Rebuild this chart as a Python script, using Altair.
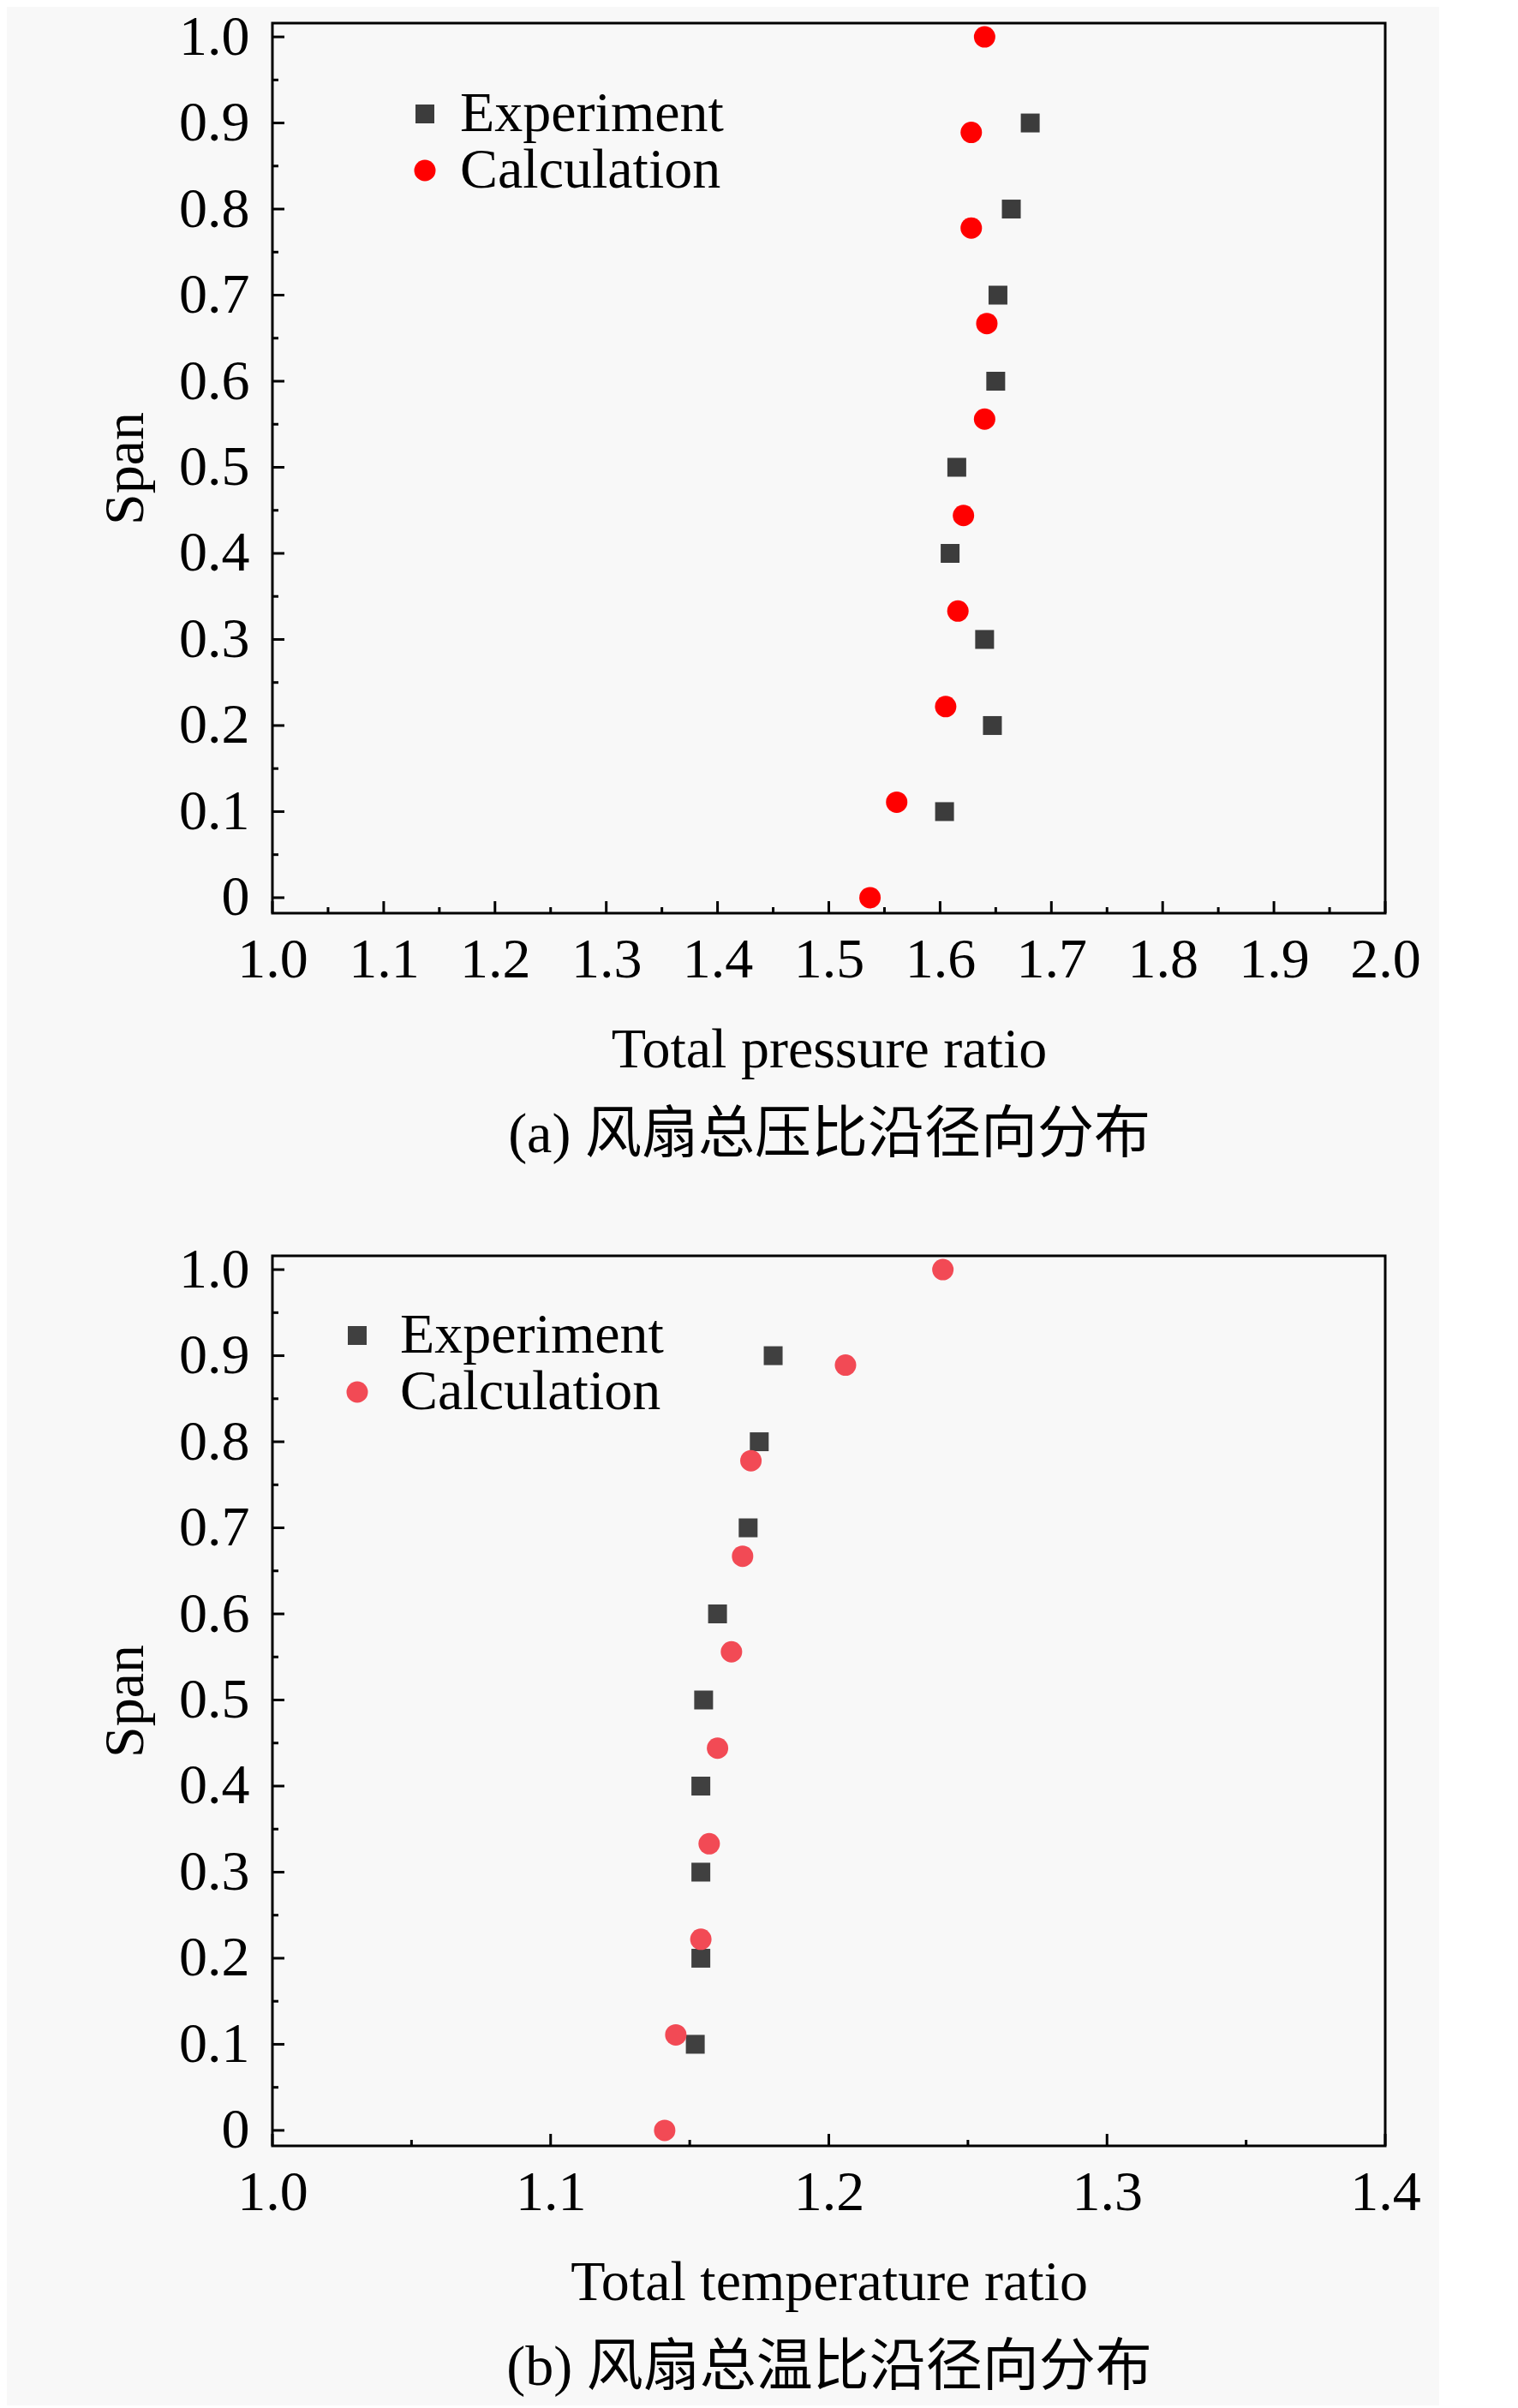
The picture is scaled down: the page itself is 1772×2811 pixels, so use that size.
import altair as alt
import pandas as pd

SERIF = "Liberation Serif, Noto Sans CJK SC"

# spans at which the two data sets were taken
span_exp = [0.1, 0.2, 0.3, 0.4, 0.5, 0.6, 0.7, 0.8, 0.9]
span_calc = [0.0, 0.111, 0.222, 0.333, 0.444, 0.556, 0.667, 0.778, 0.889, 1.0]

# (a) total pressure ratio
pressure_exp = [1.604, 1.647, 1.640, 1.609, 1.615, 1.650, 1.652, 1.664, 1.681]
pressure_calc = [1.537, 1.561, 1.605, 1.616, 1.621, 1.640, 1.642, 1.628, 1.628, 1.640]

# (b) total temperature ratio
temp_exp = [1.152, 1.154, 1.154, 1.154, 1.155, 1.160, 1.171, 1.175, 1.180]
temp_calc = [1.141, 1.145, 1.154, 1.157, 1.160, 1.165, 1.169, 1.172, 1.206, 1.241]

# tick values
x_major_a = [1.0, 1.1, 1.2, 1.3, 1.4, 1.5, 1.6, 1.7, 1.8, 1.9, 2.0]
x_minor_a = [1.05, 1.15, 1.25, 1.35, 1.45, 1.55, 1.65, 1.75, 1.85, 1.95]
x_major_b = [1.0, 1.1, 1.2, 1.3, 1.4]
x_minor_b = [1.05, 1.15, 1.25, 1.35]
y_major = [0.0, 0.1, 0.2, 0.3, 0.4, 0.5, 0.6, 0.7, 0.8, 0.9, 1.0]
y_minor = [0.05, 0.15, 0.25, 0.35, 0.45, 0.55, 0.65, 0.75, 0.85, 0.95]

series = ["Experiment", "Calculation"]

W = 1299
H = 1039
FS = 66


def panel(exp_vals, calc_vals, x_dom, x_major, x_minor, x_title, caption,
          colors, leg_x, leg_y, leg_offset):
    pts = pd.DataFrame({
        "x": exp_vals + calc_vals,
        "y": span_exp + span_calc,
        "series": ["Experiment"] * len(exp_vals) + ["Calculation"] * len(calc_vals),
    })

    x_enc = alt.X(
        "x:Q",
        scale=alt.Scale(domain=x_dom, nice=False, zero=False),
        axis=alt.Axis(
            values=x_major, format=".1f", ticks=False, tickSize=0,
            domain=False, grid=False,
            labelFont=SERIF, labelFontSize=FS, labelColor="black",
            labelPadding=22, labelFlush=False,
            title=[x_title, caption], titleFont=SERIF, titleFontSize=FS,
            titleFontWeight="normal", titleColor="black",
            titleLineHeight=99, titlePadding=40,
        ),
    )
    y_enc = alt.Y(
        "y:Q",
        scale=alt.Scale(domain=[-0.018, 1.016], nice=False, zero=False),
        axis=alt.Axis(
            values=y_major,
            labelExpr="datum.value == 0 ? '0' : format(datum.value, '.1f')",
            ticks=False, tickSize=0, domain=False, grid=False,
            labelFont=SERIF, labelFontSize=FS, labelColor="black",
            labelPadding=27, labelFlush=False,
            title="Span", titleFont=SERIF, titleFontSize=FS,
            titleFontWeight="normal", titleColor="black", titlePadding=28,
        ),
    )

    points = alt.Chart(pts).mark_point(filled=True, opacity=1, strokeWidth=0).encode(
        x=x_enc,
        y=y_enc,
        color=alt.Color(
            "series:N",
            scale=alt.Scale(domain=series, range=colors),
            legend=alt.Legend(
                orient="none", legendX=leg_x, legendY=leg_y, title=None,
                labelFont=SERIF, labelFontSize=FS, labelColor="black",
                labelOffset=leg_offset, labelLimit=0, rowPadding=0, padding=0,
                symbolStrokeWidth=0, symbolSize=560,
            ),
        ),
        shape=alt.Shape("series:N", scale=alt.Scale(domain=series, range=["square", "circle"])),
        size=alt.Size("series:N", scale=alt.Scale(domain=series, range=[484, 625]), legend=None),
    )

    def x_ticks(vals, length):
        return alt.Chart(pd.DataFrame({"x": vals})).mark_rule(
            color="black", strokeWidth=3
        ).encode(x=x_enc, y=alt.value(H), y2=alt.value(H - length))

    def y_ticks(vals, length):
        return alt.Chart(pd.DataFrame({"y": vals})).mark_rule(
            color="black", strokeWidth=3
        ).encode(y=y_enc, x=alt.value(0), x2=alt.value(length))

    return alt.layer(
        points,
        x_ticks(x_major, 14), x_ticks(x_minor, 7),
        y_ticks(y_major, 14), y_ticks(y_minor, 7),
    ).properties(width=W, height=H)


chart_a = panel(pressure_exp, pressure_calc, [1.0, 2.0], x_major_a, x_minor_a,
                "Total pressure ratio", "(a) 风扇总压比沿径向分布",
                ["#3c3c3c", "#ff0000"], 145, 73, 8)
chart_b = panel(temp_exp, temp_calc, [1.0, 1.4], x_major_b, x_minor_b,
                "Total temperature ratio", "(b) 风扇总温比沿径向分布",
                ["#404040", "#f24a55"], 66, 60, 17)

chart = alt.vconcat(chart_a, chart_b, spacing=88).resolve_scale(
    color="independent", shape="independent", size="independent"
).properties(
    padding={"left": 104, "top": 0, "right": 20, "bottom": 10},
    background="#f8f8f8",
).configure_view(
    stroke="black", strokeWidth=3
)

chart.save("out.html", embed_options={"renderer": "svg", "actions": False})
